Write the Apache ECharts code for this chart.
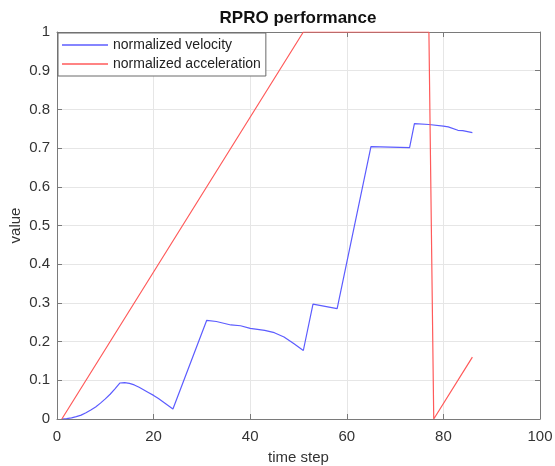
<!DOCTYPE html>
<html>
<head>
<meta charset="utf-8">
<script src="https://cdn.jsdelivr.net/npm/echarts@6/dist/echarts.min.js"></script>
<style>html,body{margin:0;padding:0;background:#fff;}#c{width:555px;height:466px;}</style>
</head>
<body>
<div id="c"></div>
<script>
const titleText = 'RPRO performance';
const xName = 'time step';
const yName = 'value';
const seriesNames = ['normalized velocity', 'normalized acceleration'];

const xTicks = [0, 20, 40, 60, 80, 100];
const yTicks = [0, 0.1, 0.2, 0.3, 0.4, 0.5, 0.6, 0.7, 0.8, 0.9, 1];

const velT = [1,2,3,4,5,6,7,8,9,10,11,12,13,14,15,16,17,18,19,20,21,22,23,24,31,33,36,38,40,43,45,47,49,51,53,58,65,73,74,77,80,81,83,84,86];
const velV = [0,0.001,0.003,0.006,0.010,0.016,0.023,0.031,0.041,0.052,0.064,0.078,0.093,0.094,0.092,0.088,0.082,0.075,0.068,0.061,0.053,0.044,0.035,0.026,0.255,0.252,0.243,0.241,0.234,0.229,0.223,0.212,0.195,0.177,0.297,0.285,0.704,0.701,0.763,0.761,0.757,0.755,0.746,0.745,0.740];

const accT = [1, 51, 77, 78, 86];
const accV = [0, 1, 1, 0, 0.16];

const pair = (xs, ys) => xs.map((x, i) => [x, ys[i]]);

const font = 'Liberation Sans, Arial, sans-serif';
const axisCol = '#7a7a7a';
const labCol = '#333';
const gridCol = '#e6e6e6';
const velCol = '#5c5cff';
const accCol = '#ff5a5a';

const chart = echarts.init(document.getElementById('c'));
const xBase = {
  type: 'value', min: 0, max: 100, interval: 20,
  axisLine: { show: true, onZero: false, lineStyle: { color: axisCol, width: 1 } },
  axisTick: { show: true, inside: true, length: 5, lineStyle: { color: axisCol } }
};
const yBase = {
  type: 'value', min: 0, max: 1, interval: 0.1,
  axisLine: { show: true, onZero: false, lineStyle: { color: axisCol, width: 1 } },
  axisTick: { show: true, inside: true, length: 5, lineStyle: { color: axisCol } }
};
chart.setOption({
  animation: false,
  backgroundColor: '#fff',
  title: {
    text: titleText, left: 298, top: 10, textAlign: 'center', padding: 0,
    textStyle: { fontFamily: font, fontSize: 17, fontWeight: 'bold', color: '#111' }
  },
  grid: { left: 57, right: 15, top: 32, bottom: 47, containLabel: false, outerBoundsMode: 'none' },
  legend: {
    orient: 'vertical', left: 58, top: 33,
    data: seriesNames.map(n => ({ name: n, icon: 'rect' })),
    backgroundColor: '#fff', borderColor: '#6a6a6a', borderWidth: 1, borderRadius: 0,
    padding: [5, 5, 5, 4], itemGap: 5, itemWidth: 46, itemHeight: 1.3,
    textStyle: { fontFamily: font, fontSize: 14, color: '#222', padding: [0, 0, 0, 0] }
  },
  xAxis: [
    Object.assign({}, xBase, {
      position: 'bottom',
      name: xName, nameLocation: 'middle', nameGap: 31, nameMoveOverlap: false,
      nameTextStyle: { fontFamily: font, fontSize: 15, color: labCol },
      axisLabel: { fontFamily: font, fontSize: 15, color: labCol, margin: 10,
        formatter: v => (xTicks.indexOf(v) >= 0 ? String(v) : '') },
      splitLine: { show: true, lineStyle: { color: gridCol, width: 1 } }
    }),
    Object.assign({}, xBase, {
      position: 'top', axisLabel: { show: false }, splitLine: { show: false }
    })
  ],
  yAxis: [
    Object.assign({}, yBase, {
      position: 'left',
      name: yName, nameLocation: 'middle', nameGap: 34, nameRotate: 90, nameMoveOverlap: false,
      nameTextStyle: { fontFamily: font, fontSize: 15, color: labCol },
      axisLabel: { fontFamily: font, fontSize: 15, color: labCol, margin: 7,
        formatter: v => { const t = yTicks.find(k => Math.abs(k - v) < 1e-9); return t === undefined ? '' : String(t); } },
      splitLine: { show: true, lineStyle: { color: gridCol, width: 1 } }
    }),
    Object.assign({}, yBase, {
      position: 'right', axisLabel: { show: false }, splitLine: { show: false }
    })
  ],
  series: [
    {
      name: seriesNames[0], type: 'line', xAxisIndex: 0, yAxisIndex: 0,
      data: pair(velT, velV), symbol: 'none', smooth: false,
      lineStyle: { color: velCol, width: 1.2 }, itemStyle: { color: velCol }
    },
    {
      name: seriesNames[1], type: 'line', xAxisIndex: 0, yAxisIndex: 0,
      data: pair(accT, accV), symbol: 'none', smooth: false,
      lineStyle: { color: accCol, width: 1.2 }, itemStyle: { color: accCol }
    }
  ]
});
</script>
</body>
</html>
